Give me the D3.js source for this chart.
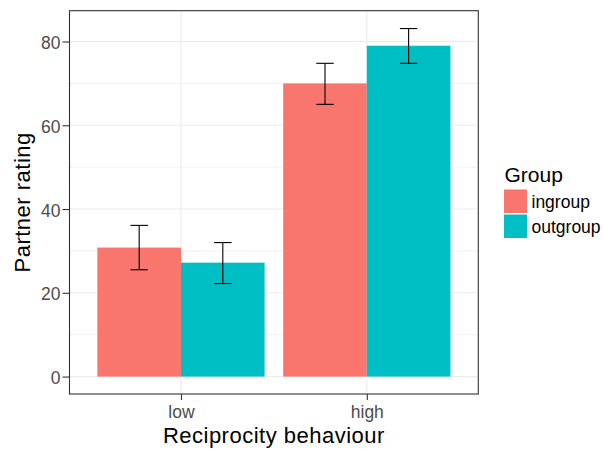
<!DOCTYPE html>
<html><head><meta charset="utf-8">
<script src="https://cdn.jsdelivr.net/npm/d3@7"></script>
<style>body{margin:0;background:#fff}svg{display:block;font-family:"Liberation Sans",Arial,sans-serif}</style>
</head><body>
<svg id="c" width="603" height="450"></svg>
<script>
const categories = ["low", "high"];
const groups = ["ingroup", "outgroup"];
const colors = ["#F8766D", "#00BFC4"];
const ingroupMean = [30.8, 70.0];
const ingroupLower = [25.5, 65.0];
const ingroupUpper = [36.1, 74.8];
const outgroupMean = [27.2, 79.0];
const outgroupLower = [22.2, 74.8];
const outgroupUpper = [32.0, 83.1];
const yTicks = [0, 20, 40, 60, 80];
const yMinor = [10, 30, 50, 70];

const series = [
  {name: groups[0], mean: ingroupMean, lo: ingroupLower, hi: ingroupUpper, color: colors[0]},
  {name: groups[1], mean: outgroupMean, lo: outgroupLower, hi: outgroupUpper, color: colors[1]}
];

const svg = d3.select("#c");
const L = 69.5, R = 478.3, T = 10.7, B = 394;
const FONT = "Liberation Sans, Arial, sans-serif";

const y = d3.scaleLinear().domain([-4.16, 87.36]).range([B, T]);
const x = d3.scaleLinear().domain([0.4, categories.length + 0.6]).range([L, R]);
const cx = i => x(i + 1);
const barW = 0.45;

const g = svg.append("g");
g.append("rect").attr("x", L).attr("y", T).attr("width", R - L).attr("height", B - T).attr("fill", "#fff");
g.selectAll(".ymin").data(yMinor).enter().append("line")
  .attr("x1", L).attr("x2", R).attr("y1", d => y(d)).attr("y2", d => y(d))
  .attr("stroke", "#f2f2f2").attr("stroke-width", 1);
g.selectAll(".ymaj").data(yTicks).enter().append("line")
  .attr("x1", L).attr("x2", R).attr("y1", d => y(d)).attr("y2", d => y(d))
  .attr("stroke", "#ebebeb").attr("stroke-width", 1.1);
g.selectAll(".xmaj").data(categories).enter().append("line")
  .attr("x1", (d, i) => cx(i)).attr("x2", (d, i) => cx(i)).attr("y1", T).attr("y2", B)
  .attr("stroke", "#ebebeb").attr("stroke-width", 1.1);

series.forEach((s, si) => {
  g.selectAll(".bar" + si).data(s.mean).enter().append("rect")
    .attr("x", (d, i) => x(i + 1 - barW + si * barW))
    .attr("width", x(barW) - x(0))
    .attr("y", d => y(d))
    .attr("height", d => y(0) - y(d))
    .attr("fill", s.color);
});
const ebHalf = 0.047;
series.forEach((s, si) => {
  s.mean.forEach((m, i) => {
    const c = i + 1 - barW / 2 + si * barW;
    const eg = g.append("g").attr("stroke", "#000").attr("stroke-width", 1.1).attr("fill", "none");
    eg.append("line").attr("x1", x(c)).attr("x2", x(c)).attr("y1", y(s.lo[i])).attr("y2", y(s.hi[i]));
    eg.append("line").attr("x1", x(c - ebHalf)).attr("x2", x(c + ebHalf)).attr("y1", y(s.lo[i])).attr("y2", y(s.lo[i]));
    eg.append("line").attr("x1", x(c - ebHalf)).attr("x2", x(c + ebHalf)).attr("y1", y(s.hi[i])).attr("y2", y(s.hi[i]));
  });
});
g.append("rect").attr("x", L).attr("y", T).attr("width", R - L).attr("height", B - T)
  .attr("fill", "none").attr("stroke", "#333333").attr("stroke-width", 1.1);

const yAxis = d3.axisLeft(y).tickValues(yTicks).tickSize(7).tickPadding(2);
const ya = svg.append("g").attr("transform", `translate(${L},0)`).call(yAxis);
ya.select(".domain").remove();
ya.selectAll(".tick line").attr("stroke", "#333333").attr("stroke-width", 1.1);
ya.selectAll(".tick text").attr("fill", "#4d4d4d").attr("font-size", 17.5).attr("font-family", FONT).attr("dy", "0.40em");

const xAxis = d3.axisBottom(x).tickValues(categories.map((d, i) => i + 1)).tickFormat((d, i) => categories[i]).tickSize(6).tickPadding(5.5);
const xa = svg.append("g").attr("transform", `translate(0,${B})`).call(xAxis);
xa.select(".domain").remove();
xa.selectAll(".tick line").attr("stroke", "#333333").attr("stroke-width", 1.1);
xa.selectAll(".tick text").attr("fill", "#4d4d4d").attr("font-size", 17.5).attr("font-family", FONT);

svg.append("text").attr("x", (L + R) / 2).attr("y", 443.3).attr("text-anchor", "middle")
  .attr("font-size", 22).attr("letter-spacing", 0.5).attr("fill", "#000").text("Reciprocity behaviour");
svg.append("text").attr("transform", `translate(30,${(T + B) / 2}) rotate(-90)`).attr("text-anchor", "middle")
  .attr("font-size", 22).attr("letter-spacing", 0.5).attr("fill", "#000").text("Partner rating");

const lg = svg.append("g");
lg.append("text").attr("x", 504.5).attr("y", 182).attr("font-size", 21).attr("fill", "#000").text("Group");
groups.forEach((gname, i) => {
  const yy = 189.5 + i * 25;
  lg.append("rect").attr("x", 504).attr("y", yy).attr("width", 23).attr("height", 23.5).attr("fill", colors[i]);
  lg.append("text").attr("x", 531.5).attr("y", yy + 18).attr("font-size", 17.5).attr("fill", "#000").text(gname);
});
</script>
</body></html>
